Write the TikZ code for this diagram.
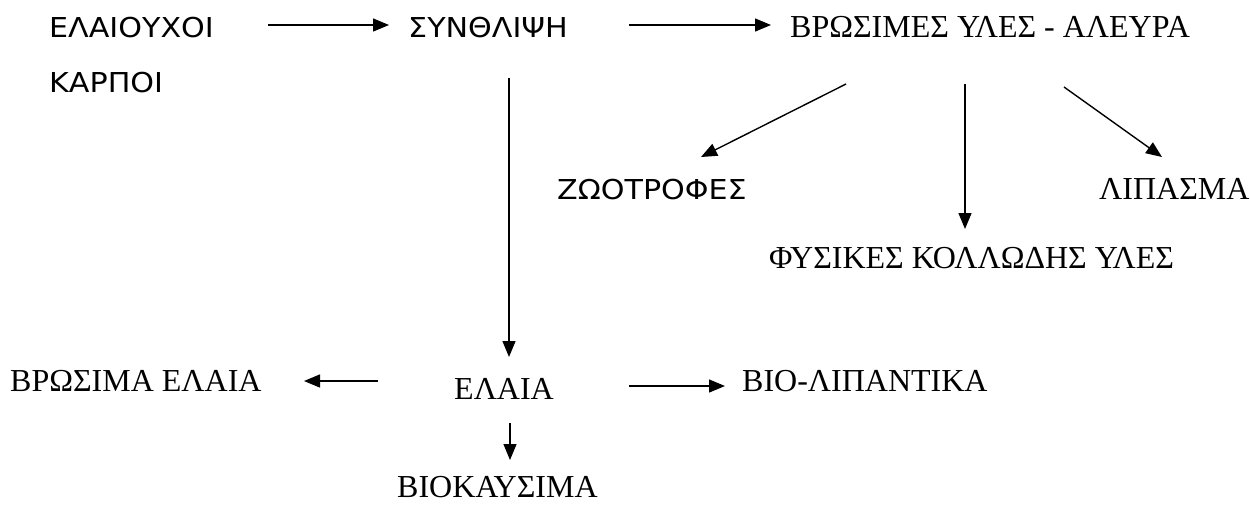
\documentclass[tikz,border=0pt]{standalone}
\usepackage{fontspec}
\newfontfamily\sansf[FakeStretch=1.1]{DejaVu Sans}
\newfontfamily\seriff{Liberation Serif}
\usetikzlibrary{arrows.meta}
\begin{document}
\begin{tikzpicture}[x=1pt,y=-1pt,
  sanslbl/.style={anchor=base west,inner sep=0pt,text depth=0pt,font=\sansf\fontsize{27.4}{30}\selectfont},
  seriflbl/.style={anchor=base west,inner sep=0pt,text depth=0pt,font=\seriff\fontsize{32}{35}\selectfont},
  arr/.style={line width=1.4pt,-{Triangle[length=16pt,width=13pt]}}]
\useasboundingbox (0,0) rectangle (1250,504);
% labels
\node[sanslbl] (elaiou) at (49,37) {ΕΛΑΙΟΥΧΟΙ};
\node[sanslbl] (karpoi) at (49,92) {ΚΑΡΠΟΙ};
\node[sanslbl] (synth) at (408,37) {ΣΥΝΘΛΙΨΗ};
\node[seriflbl] (vrosimes) at (790,37) {ΒΡΩΣΙΜΕΣ ΥΛΕΣ - ΑΛΕΥΡΑ};
\node[sanslbl] (zootr) at (557,199) {ΖΩΟΤΡΟΦΕΣ};
\node[seriflbl] (lipasma) at (1099,199) {ΛΙΠΑΣΜΑ};
\node[seriflbl] (fysikes) at (769,268) {ΦΥΣΙΚΕΣ ΚΟΛΛΩΔΗΣ ΥΛΕΣ};
\node[seriflbl] (vrelaia) at (10,391) {ΒΡΩΣΙΜΑ ΕΛΑΙΑ};
\node[seriflbl] (elaia) at (454,399) {ΕΛΑΙΑ};
\node[seriflbl] (violip) at (742,391) {ΒΙΟ-ΛΙΠΑΝΤΙΚΑ};
\node[seriflbl] (viokaus) at (397,497) {ΒΙΟΚΑΥΣΙΜΑ};
% connector end points
\coordinate (a1s) at (268,25);  \coordinate (a1e) at (389,25);
\coordinate (a2s) at (629,25);  \coordinate (a2e) at (771,25);
\coordinate (a3s) at (509,78);  \coordinate (a3e) at (509,357);
\coordinate (a4s) at (846,84);  \coordinate (a4e) at (701,157);
\coordinate (a5s) at (965,84);  \coordinate (a5e) at (965,229);
\coordinate (a6s) at (1064,87); \coordinate (a6e) at (1162,157);
\coordinate (a7s) at (378,381); \coordinate (a7e) at (304,381);
\coordinate (a8s) at (629,386); \coordinate (a8e) at (725,386);
\coordinate (a9s) at (510,423); \coordinate (a9e) at (510,460);
% connectors
\draw[arr] (a1s) -- (a1e);
\draw[arr] (a2s) -- (a2e);
\draw[arr] (a3s) -- (a3e);
\draw[arr] (a4s) -- (a4e);
\draw[arr] (a5s) -- (a5e);
\draw[arr] (a6s) -- (a6e);
\draw[arr] (a7s) -- (a7e);
\draw[arr] (a8s) -- (a8e);
\draw[arr] (a9s) -- (a9e);
\end{tikzpicture}
\end{document}
